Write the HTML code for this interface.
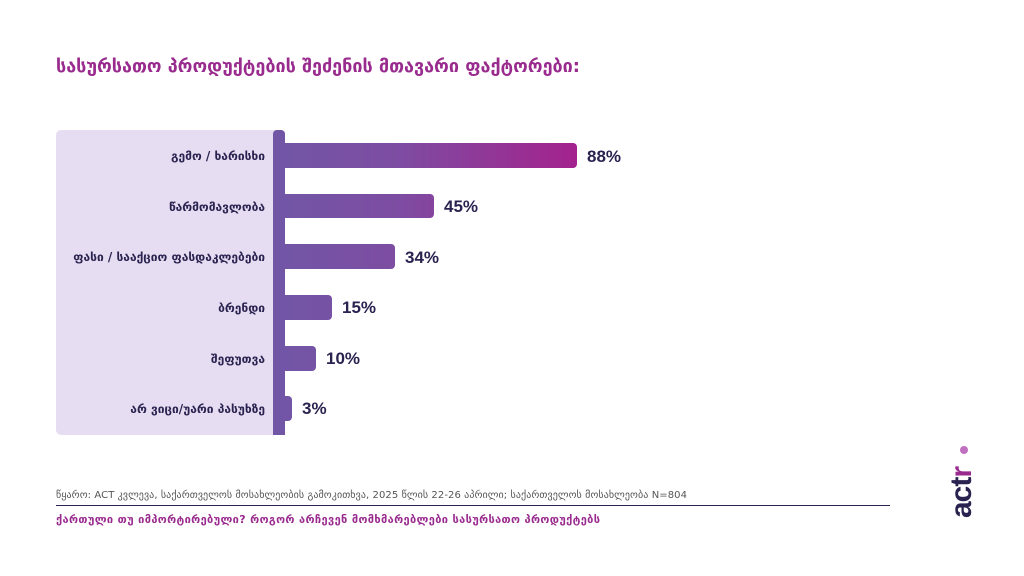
<!DOCTYPE html>
<html><head><meta charset="utf-8"><style>
body{margin:0;width:1024px;height:576px;background:#fff;overflow:hidden;font-family:"Liberation Sans","DejaVu Sans",sans-serif}
svg{position:absolute;left:0;top:0}
</style></head><body>
<svg width="1024" height="576" viewBox="0 0 1024 576">
<defs>
<linearGradient id="g" gradientUnits="userSpaceOnUse" x1="273" y1="0" x2="580" y2="0">
<stop offset="0" stop-color="#7156a6"/><stop offset="0.4" stop-color="#7d4da2"/><stop offset="1" stop-color="#a5218d"/>
</linearGradient>
</defs>
<text x="56" y="72" font-size="18" font-weight="bold" fill="#9a2b8e" font-family="DejaVu Sans,sans-serif" textLength="524">სასურსათო პროდუქტების შეძენის მთავარი ფაქტორები:</text>
<rect x="56" y="130" width="225" height="305" rx="5" fill="#e7ddf2"/>
<path d="M273 435 V134 a4 4 0 0 1 4 -4 h4 a4 4 0 0 1 4 4 V435 Z" fill="url(#g)"/>
<g fill="url(#g)">
<rect x="273" y="143" width="304" height="25" rx="4"/>
<rect x="273" y="194" width="161" height="24" rx="4"/>
<rect x="273" y="244" width="122" height="25" rx="4"/>
<rect x="273" y="295" width="59" height="25" rx="4"/>
<rect x="273" y="346" width="43" height="25" rx="4"/>
<rect x="273" y="396" width="19" height="25" rx="4"/>
</g>
<g font-size="12" font-weight="bold" fill="#2a2350" text-anchor="end" font-family="DejaVu Sans,sans-serif">
<text x="265" y="160">გემო / ხარისხი</text>
<text x="265" y="211">წარმომავლობა</text>
<text x="265" y="261">ფასი / სააქციო ფასდაკლებები</text>
<text x="265" y="312">ბრენდი</text>
<text x="265" y="363">შეფუთვა</text>
<text x="265" y="413">არ ვიცი/უარი პასუხზე</text>
</g>
<g font-size="17" font-weight="bold" fill="#2a2350">
<text x="587" y="162">88%</text>
<text x="444" y="212">45%</text>
<text x="405" y="263">34%</text>
<text x="342" y="313">15%</text>
<text x="326" y="364">10%</text>
<text x="302" y="414">3%</text>
</g>
<text x="56" y="498" font-size="10" fill="#555" font-family="DejaVu Sans,sans-serif" textLength="631">წყარო: ACT კვლევა, საქართველოს მოსახლეობის გამოკითხვა, 2025 წლის 22-26 აპრილი; საქართველოს მოსახლეობა N=804</text>
<rect x="56" y="505" width="834" height="1" fill="#2a2350"/>
<text x="56" y="523" font-size="11" font-weight="bold" fill="#9a2b8e" font-family="DejaVu Sans,sans-serif" textLength="544">ქართული თუ იმპორტირებული? როგორ არჩევენ მომხმარებლები სასურსათო პროდუქტებს</text>
<g transform="translate(971,518) rotate(-90)">
<text x="0" y="0" font-size="30" font-weight="bold" fill="#2a2350" font-family="Liberation Sans,sans-serif" letter-spacing="-1">act<tspan fill="#9a2b8e">r</tspan></text>
</g>
<circle cx="964" cy="450" r="4" fill="#c070c0"/>
</svg>
</body></html>
